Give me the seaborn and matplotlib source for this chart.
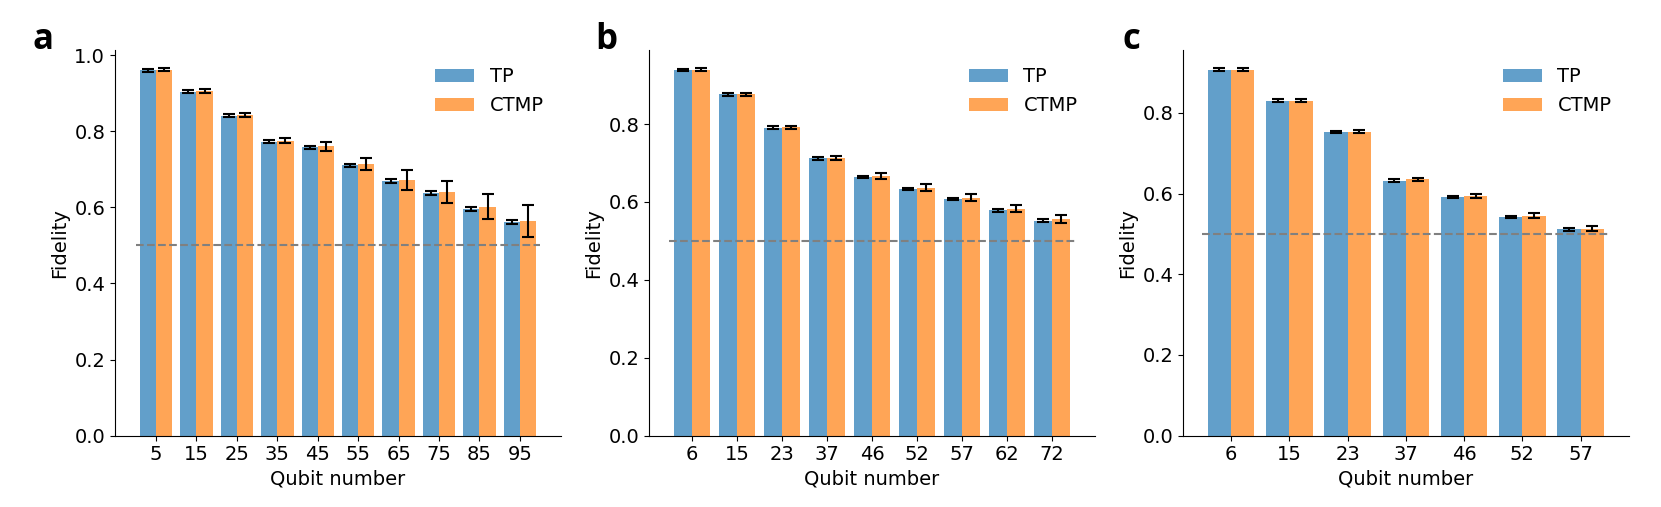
import numpy as np
import pandas as pd
import matplotlib
matplotlib.use("Agg")
import matplotlib.pyplot as plt
import seaborn as sns

# panel a
qubits_a = [5, 15, 25, 35, 45, 55, 65, 75, 85, 95]
tp_a = [0.960, 0.903, 0.840, 0.772, 0.758, 0.711, 0.669, 0.637, 0.596, 0.561]
ctmp_a = [0.961, 0.905, 0.842, 0.775, 0.760, 0.714, 0.671, 0.640, 0.602, 0.564]
tp_err_a = [0.004, 0.004, 0.004, 0.004, 0.004, 0.004, 0.005, 0.005, 0.006, 0.006]
ctmp_err_a = [0.004, 0.005, 0.006, 0.007, 0.011, 0.016, 0.026, 0.029, 0.032, 0.043]

# panel b
qubits_b = [6, 15, 23, 37, 46, 52, 57, 62, 72]
tp_b = [0.939, 0.876, 0.791, 0.712, 0.664, 0.634, 0.608, 0.579, 0.552]
ctmp_b = [0.940, 0.876, 0.792, 0.713, 0.667, 0.637, 0.611, 0.583, 0.556]
tp_err_b = [0.003, 0.003, 0.003, 0.003, 0.003, 0.003, 0.003, 0.004, 0.004]
ctmp_err_b = [0.003, 0.003, 0.004, 0.005, 0.008, 0.009, 0.009, 0.009, 0.011]

# panel c
qubits_c = [6, 15, 23, 37, 46, 52, 57]
tp_c = [0.907, 0.830, 0.752, 0.632, 0.592, 0.542, 0.511]
ctmp_c = [0.907, 0.830, 0.753, 0.635, 0.593, 0.545, 0.513]
tp_err_c = [0.003, 0.003, 0.003, 0.003, 0.003, 0.003, 0.003]
ctmp_err_c = [0.003, 0.003, 0.004, 0.004, 0.005, 0.006, 0.006]

methods = ["TP", "CTMP"]
colors = ["#1f77b4", "#ff7f0e"]

panels = [
    ("a", qubits_a, tp_a, ctmp_a, tp_err_a, ctmp_err_a),
    ("b", qubits_b, tp_b, ctmp_b, tp_err_b, ctmp_err_b),
    ("c", qubits_c, tp_c, ctmp_c, tp_err_c, ctmp_err_c),
]
letter_x = [33 / 1661, 595 / 1661, 1123 / 1661]

plt.rcParams["font.size"] = 14

fig, axes = plt.subplots(1, 3, figsize=(16.61, 5.07), dpi=100)
plt.subplots_adjust(left=0.0692, right=0.9807, bottom=0.1406, top=0.9014, wspace=0.197)

for ax, (letter, qubits, tp, ctmp, tp_err, ctmp_err), lx in zip(axes, panels, letter_x):
    n = len(qubits)
    df = pd.DataFrame({
        "Qubit": [str(q) for q in qubits] * 2,
        "Fidelity": tp + ctmp,
        "Method": ["TP"] * n + ["CTMP"] * n,
    })
    sns.barplot(data=df, x="Qubit", y="Fidelity", hue="Method", hue_order=methods,
                palette=colors, saturation=1, alpha=0.7, linewidth=0,
                errorbar=None, ax=ax)

    # precomputed error bars on top of each bar
    for container, err in zip(ax.containers, [tp_err, ctmp_err]):
        xs = [p.get_x() + p.get_width() / 2 for p in container.patches]
        ys = [p.get_height() for p in container.patches]
        ax.errorbar(xs, ys, yerr=err, fmt="none", ecolor="black",
                    elinewidth=1.5, capsize=4, capthick=1.5)

    ax.hlines(0.5, -0.5, n - 0.5, colors="gray", linestyles="--", linewidth=1.5)

    m = 0.063 * (n - 0.2)
    ax.set_xlim(-0.4 - m, n - 0.6 + m)
    ax.autoscale(axis="y")
    ax.set_ylim(bottom=0)
    ax.set_xlabel("Qubit number")
    ax.set_ylabel("Fidelity")
    ax.legend(frameon=False, loc="upper right")
    sns.despine(ax=ax)

    fig.text(lx, 0.903, letter, fontsize=25, fontweight="bold",
             family=["Open Sans", "DejaVu Sans"], ha="left", va="baseline")

fig.savefig("out.png", dpi=100)
